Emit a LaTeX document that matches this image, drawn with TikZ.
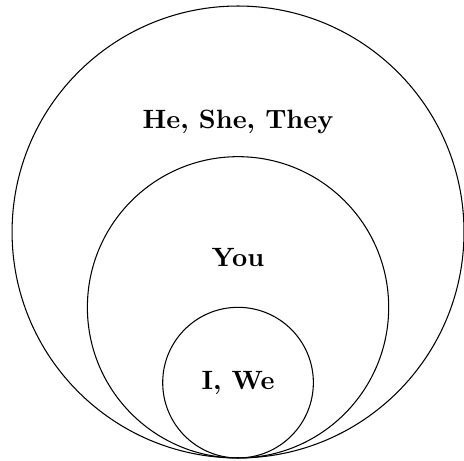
\documentclass[tikz,border=0pt]{standalone}
\usepackage{tikz}
\usetikzlibrary{positioning}

\begin{document}
\begin{tikzpicture}[every node/.style={font=\bfseries}, ring/.style={draw, circle, inner sep=0pt}]
    \useasboundingbox (-3.16,-0.033) rectangle (3.0,6.08);
    % nested circles, all touching at the bottom
    \node[ring, minimum size=6cm] (others) at (0,3) {};
    \node[ring, minimum size=4cm] (you) at (0,2) {};
    \node[ring, minimum size=2cm] (self) at (0,1) {};

    \node (otherslabel) at (0,4.46) {He, She, They};
    \node (youlabel) at (0,2.66) {You};
    \node (selflabel) at (self.center) {I, We};
  \end{tikzpicture}
\end{document}
